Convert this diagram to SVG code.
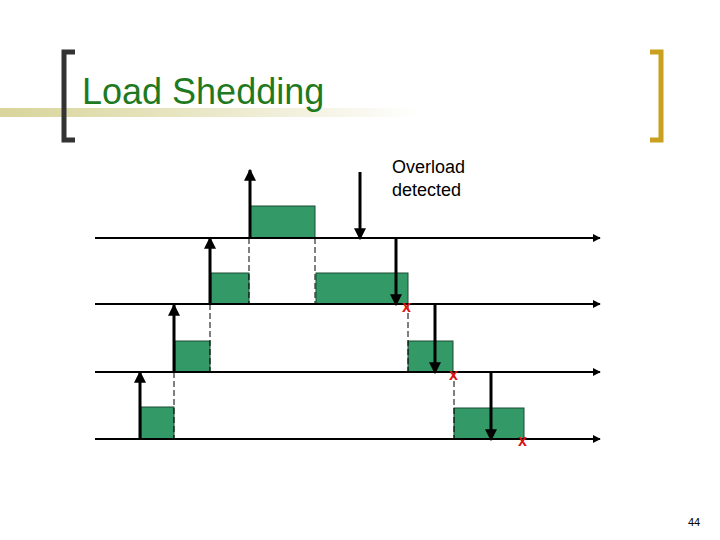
<svg xmlns="http://www.w3.org/2000/svg" width="720" height="540" viewBox="0 0 720 540">
<defs>
<linearGradient id="band" x1="0" x2="1" y1="0" y2="0"><stop offset="0" stop-color="#d8d49a"/><stop offset="0.6" stop-color="#eeecd2"/><stop offset="1" stop-color="#ffffff"/></linearGradient>
<marker id="ah" viewBox="0 0 10 10" refX="9" refY="5" markerWidth="4" markerHeight="4" orient="auto"><path d="M0,0 L10,5 L0,10 z" fill="#000"/></marker>
</defs>
<style>
.box{fill:#339966;stroke:#1b4d33;stroke-width:1}
.ax{stroke:#000;stroke-width:2;marker-end:url(#ah)}
.ar{stroke:#000;stroke-width:3;marker-end:url(#ah)}
.da{stroke:#000;stroke-width:1;stroke-dasharray:6,3}
.x{fill:#dd1111;font-family:"Liberation Sans",Arial,sans-serif;font-size:16px;font-weight:bold}
</style>
<rect width="720" height="540" fill="#fff"/>
<rect x="0" y="108" width="420" height="9" fill="url(#band)"/>
<path d="M75,52 H64 V140 H75" fill="none" stroke="#333" stroke-width="5"/>
<path d="M650,52 H661 V140 H650" fill="none" stroke="#c9a020" stroke-width="5"/>
<text x="82" y="104" font-family="Liberation Sans,Arial,sans-serif" font-size="36" fill="#1f7a1f">Load Shedding</text>
<text x="392" y="173" font-family="Liberation Sans,Arial,sans-serif" font-size="18" fill="#000">Overload</text>
<text x="392" y="196" font-family="Liberation Sans,Arial,sans-serif" font-size="18" fill="#000">detected</text>
<g id="boxes">
<rect class="box" x="141" y="407" width="33" height="32"/>
<rect class="box" x="175" y="341" width="35" height="31"/>
<rect class="box" x="211" y="273" width="38" height="31"/>
<rect class="box" x="250" y="206" width="65" height="32"/>
<rect class="box" x="316" y="273" width="92" height="31"/>
<rect class="box" x="408" y="341" width="45" height="31"/>
<rect class="box" x="454" y="408" width="70" height="31"/>
</g>
<g id="connectors">
<line class="ax" x1="95" y1="238" x2="600" y2="238"/>
<line class="ax" x1="95" y1="304" x2="600" y2="304"/>
<line class="ax" x1="95" y1="372" x2="600" y2="372"/>
<line class="ax" x1="95" y1="439" x2="600" y2="439"/>
<line class="da" x1="174" y1="372" x2="174" y2="439"/>
<line class="da" x1="210" y1="304" x2="210" y2="372"/>
<line class="da" x1="249" y1="238" x2="249" y2="304"/>
<line class="da" x1="315" y1="238" x2="315" y2="304"/>
<line class="da" x1="408" y1="304" x2="408" y2="372"/>
<line class="da" x1="454" y1="372" x2="454" y2="439"/>
<line class="ar" x1="140" y1="439" x2="140" y2="372"/>
<line class="ar" x1="174" y1="372" x2="174" y2="305"/>
<line class="ar" x1="210" y1="304" x2="210" y2="238"/>
<line class="ar" x1="250" y1="238" x2="250" y2="170"/>
<line class="ar" x1="360" y1="172" x2="360" y2="239"/>
<line class="ar" x1="396" y1="238" x2="396" y2="305"/>
<line class="ar" x1="435" y1="304" x2="435" y2="373"/>
<line class="ar" x1="491" y1="372" x2="491" y2="440"/>
</g>
<text class="x" x="402" y="312">x</text>
<text class="x" x="449" y="380">x</text>
<text class="x" x="518" y="446">x</text>
<text x="688" y="526" font-family="Liberation Sans,Arial,sans-serif" font-size="11" fill="#000">44</text>
</svg>
